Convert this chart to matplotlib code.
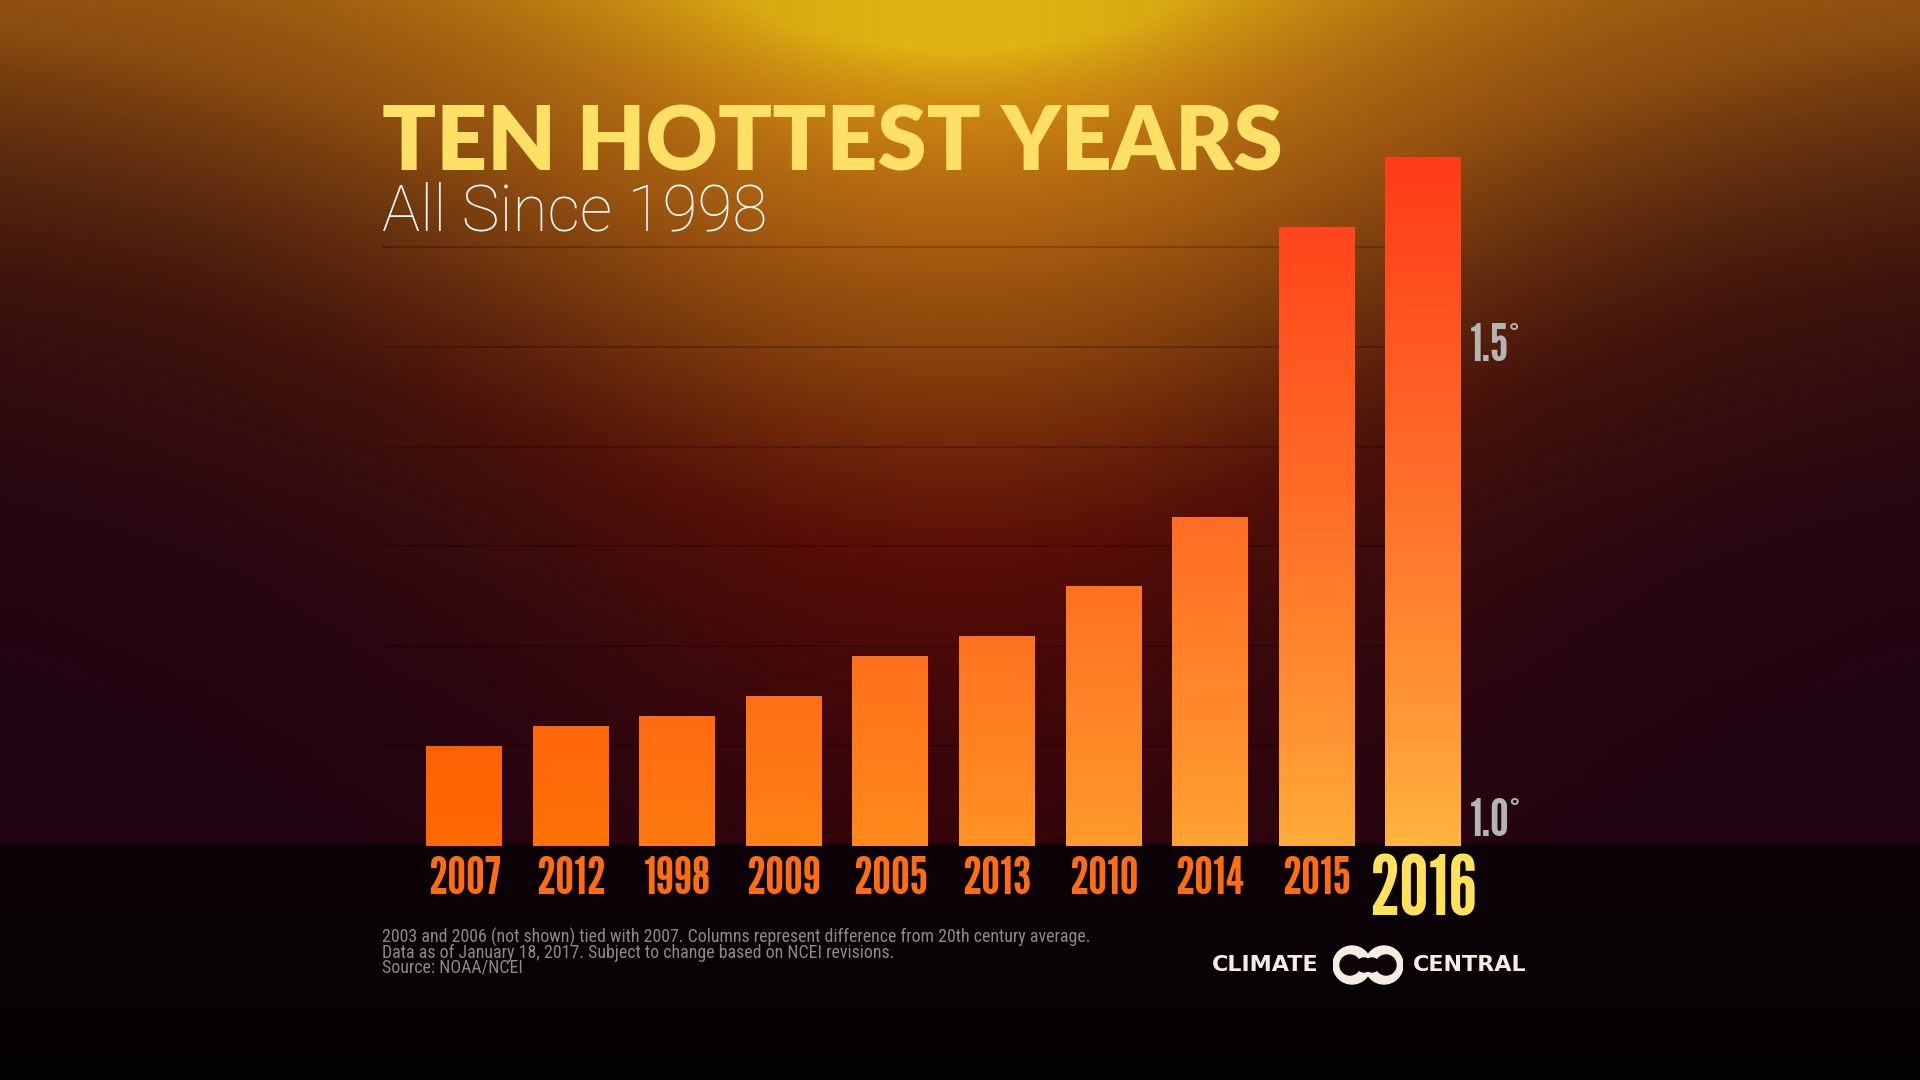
import numpy as np
import matplotlib
matplotlib.use("Agg")
import matplotlib.pyplot as plt
from matplotlib.colors import LinearSegmentedColormap, to_rgb
from matplotlib.patches import Circle
import matplotlib.transforms as mtransforms

# data (global temperature anomaly, deg F above 20th century average)
years = ["2007", "2012", "1998", "2009", "2005", "2013", "2010", "2014", "2015", "2016"]
anomaly = [1.10, 1.12, 1.13, 1.15, 1.19, 1.21, 1.26, 1.33, 1.62, 1.69]
label_ticks = [1.0, 1.5]
label_texts = ["1.0°", "1.5°"]
grid_ticks = [1.1, 1.2, 1.3, 1.4, 1.5, 1.6]

title = "TEN HOTTEST YEARS"
subtitle = "All Since 1998"
notes = [
    "2003 and 2006 (not shown) tied with 2007. Columns represent difference from 20th century average.",
    "Data as of January 18, 2017. Subject to change based on NCEI revisions.",
    "Source: NOAA/NCEI",
]

narrow = ["League Gothic", "Fjalla One", "DejaVu Sans"]
note_font = ["Roboto Condensed", "DejaVu Sans"]

fig = plt.figure(figsize=(19.2, 10.8), dpi=100)

# background glow
H, W = 270, 480
yy, xx = np.mgrid[0:1:H * 1j, 0:1:W * 1j]
g = np.exp(-((xx - 0.5) / 0.34) ** 2)
amp = 0.6 + 0.4 * g
scale = 0.32 + 0.13 * g
glow = amp * np.exp(-yy / scale)
glow += 0.15 * np.exp(-((xx - 0.5) / 0.1) ** 2 - (yy / 0.06) ** 2)
glow = np.clip(glow, 0, 1)
center_cmap = LinearSegmentedColormap.from_list("bgc", [
    (0.0, "#1a0414"), (0.1, "#25040e"), (0.2, "#3a060a"), (0.32, "#5a0e06"),
    (0.47, "#86400c"), (0.6, "#a65c10"), (0.78, "#c88012"), (1.0, "#e0b412")])
side_cmap = LinearSegmentedColormap.from_list("bgs", [
    (0.0, "#1c0416"), (0.15, "#260612"), (0.3, "#3e140c"), (0.45, "#623010"),
    (0.6, "#8a4c10"), (1.0, "#b07010")])
mix = np.exp(-((xx - 0.5) / 0.25) ** 2)[..., None]
img = center_cmap(glow)[..., :3] * mix + side_cmap(glow)[..., :3] * (1 - mix)
strip = yy > 846 / 1080
fade = (yy - 846 / 1080) / (1 - 846 / 1080)
dark_top, dark_bot = np.array(to_rgb("#0c0307")), np.array(to_rgb("#050203"))
strip_col = dark_top * (1 - fade[..., None]) + dark_bot * fade[..., None]
img[strip] = strip_col[strip]

bg = fig.add_axes([0, 0, 1, 1], zorder=-10)
bg.imshow(img, extent=(0, 1, 0, 1), aspect="auto", interpolation="bilinear")
bg.axis("off")

# chart
ax = fig.add_axes([0.199, 0.2167, 0.562, 0.647])
ax.set_facecolor("none")
x = np.arange(len(years))
base = 1.0
width = 0.713
c_first, c_last, c_top = np.array(to_rgb("#ff6a00")), np.array(to_rgb("#ffb540")), np.array(to_rgb("#ff3a18"))
bottom_cols = [c_first + (c_last - c_first) * i / (len(years) - 1) for i in range(len(years))]
bars = ax.bar(x, np.array(anomaly) - base, bottom=base, width=width, color=bottom_cols, zorder=2)

# vertical colour ramp inside each bar
for i, (bar, v) in enumerate(zip(bars, anomaly)):
    ys = np.linspace(base, v, 200)
    t = ((ys - base) / 0.7) ** 0.85
    grad = bottom_cols[i] * (1 - t)[:, None] + c_top * t[:, None]
    bx = bar.get_x()
    im = ax.imshow(grad[:, None, :], extent=(bx, bx + width, base, v), origin="lower",
                   aspect="auto", interpolation="bilinear", zorder=3)
    im.set_clip_path(bar)

ax.set_xlim(-0.77, 9.356)
ax.set_ylim(1.0, 1.7)
ax.set_yticks(grid_ticks)
ax.grid(axis="y", color="black", alpha=0.25, lw=1.2)
ax.set_axisbelow(True)
ax.tick_params(left=False, bottom=False, labelleft=False, labelbottom=False)
for sp in ax.spines.values():
    sp.set_visible(False)

# year labels
xtrans = mtransforms.blended_transform_factory(ax.transData, ax.transAxes)
for xi, yr in zip(x, years):
    if yr == years[-1]:
        ax.text(xi, -0.012, yr, transform=xtrans, ha="center", va="top", fontsize=60,
                color="#ffe25a", family=narrow)
    else:
        ax.text(xi, -0.015, yr, transform=xtrans, ha="center", va="top", fontsize=38,
                color="#ff6d12", family=narrow)

# value labels on right
ytrans = mtransforms.blended_transform_factory(ax.transAxes, ax.transData)
for v, lab in zip(label_ticks, label_texts):
    ax.text(1.008, v, lab, transform=ytrans, ha="left", va="bottom" if v == base else "center",
            fontsize=38, color="#b4b4b4", family=narrow)

# titles
fig.text(0.199, 0.8417, title, fontsize=64, fontweight="heavy", color="#ffe066",
         family=["Lato", "DejaVu Sans"], va="baseline")
fig.text(0.199, 0.787, subtitle, fontsize=46, fontweight="light", color="white",
         family=["Roboto", "Lato", "DejaVu Sans"], va="baseline")

# footnotes
for j, line in enumerate(notes):
    fig.text(0.199, 1 - (943 + 15 * j) / 1080, line, fontsize=12.9, color="#8a8a8a",
             family=note_font, va="baseline")

# logo
fig.text(1212 / 1920, 0.1065, "CLIMATE", fontsize=16, fontweight="bold", color="#f6ede2",
         family="DejaVu Sans", va="center", ha="left")
fig.text(1413 / 1920, 0.1065, "CENTRAL", fontsize=16, fontweight="bold", color="#f6ede2",
         family="DejaVu Sans", va="center", ha="left")
lg = fig.add_axes([1333 / 1920, (1080 - 990) / 1080, 70 / 1920, 50 / 1080])
lg.set_xlim(0, 70)
lg.set_ylim(0, 50)
lg.set_aspect("equal")
lg.axis("off")
for cx in (19, 51):
    lg.add_patch(Circle((cx, 25), 19, color="#f6ede2"))
for cx, r in ((17, 10), (31, 7), (39, 7), (53, 10)):
    lg.add_patch(Circle((cx, 25), r, color="#0c0307"))

fig.savefig("out.png", dpi=100)
